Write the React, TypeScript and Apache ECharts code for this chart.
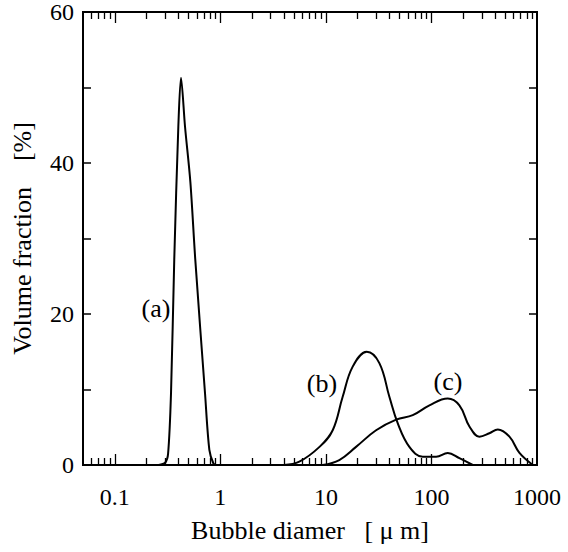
import React, { useEffect, useRef } from "react";
import * as echarts from "echarts";

const seriesA: [number, number][] = [
  [0.26, 0], [0.3, 0.3], [0.32, 1.5], [0.341, 9.5], [0.366, 27.2], [0.4, 44.8], [0.424, 51.3],
  [0.463, 44.8], [0.52, 37.5], [0.579, 27.2], [0.716, 9.5], [0.787, 2.0], [0.86, 0.2], [0.91, 0],
];
const seriesB: [number, number][] = [
  [4.0, 0], [5.6, 0.44], [8.7, 2.4], [11.6, 4.6], [14.4, 9.0], [17.9, 13.0], [24.4, 15.0],
  [32.1, 13.5], [40.0, 9.0], [48.0, 5.5], [61.8, 2.4], [82.7, 1.1], [110.8, 1.1], [142.7, 1.6],
  [184, 0.9], [246, 0],
];
const seriesC: [number, number][] = [
  [9.3, 0], [13.4, 0.66], [19.3, 2.4], [29.9, 4.6], [46.3, 6.0], [66.5, 6.6], [95.7, 7.9],
  [142.7, 8.8], [184, 7.9], [229, 5.1], [285, 3.75], [354, 4.2], [425, 4.7], [548, 3.75],
  [682, 1.6], [913, 0],
];
const xTickLabels = [0.1, 1, 10, 100, 1000];
const majorTicks = [0.1, 1, 10, 100];
const minorTicks = [
  0.06, 0.07, 0.08, 0.09,
  0.2, 0.3, 0.4, 0.5, 0.6, 0.7, 0.8, 0.9,
  2, 3, 4, 5, 6, 7, 8, 9,
  20, 30, 40, 50, 60, 70, 80, 90,
  200, 300, 400, 500, 600, 700, 800, 900,
];
const yTickLabels = [0, 20, 40, 60];
const Y_MIN = 0;
const Y_MAX = 60;
const X_MIN = 0.05;
const X_MAX = 1000;
const curveLabels = [
  { text: "(a)", x: 156, y: 308 },
  { text: "(b)", x: 322, y: 383 },
  { text: "(c)", x: 448, y: 381 },
];

const FONT = "Liberation Serif";

function tickAxis(values: number[], position: "top" | "bottom", len: number) {
  return {
    type: "log",
    logBase: 10,
    min: X_MIN,
    max: X_MAX,
    position,
    axisLine: { show: false },
    splitLine: { show: false },
    axisLabel: { show: false },
    axisTick: {
      show: true,
      inside: true,
      length: len,
      customValues: values,
      lineStyle: { color: "#000", width: 1.3 },
    },
  };
}

export default function App() {
  const ref = useRef<HTMLDivElement>(null);
  useEffect(() => {
    if (!ref.current) return;
    const chart = echarts.init(ref.current, undefined, { renderer: "svg" });
    const lineStyle = { color: "#000", width: 2 };
    chart.setOption({
      animation: false,
      backgroundColor: "#fff",
      grid: {
        left: 83,
        right: 31,
        top: 12,
        bottom: 87,
        show: true,
        borderColor: "#000",
        borderWidth: 2,
        outerBoundsMode: "none",
        containLabel: false,
      },
      xAxis: [
        {
          type: "log",
          logBase: 10,
          min: X_MIN,
          max: X_MAX,
          position: "bottom",
          name: "Bubble diamer   [ \u03bc m]",
          nameLocation: "middle",
          nameGap: 52,
          nameTextStyle: { fontFamily: FONT, fontSize: 26, color: "#000" },
          axisLine: { show: false },
          axisTick: {
            show: true,
            inside: true,
            length: 11,
            customValues: majorTicks,
            lineStyle: { color: "#000", width: 1.3 },
          },
          splitLine: { show: false },
          axisLabel: {
            fontFamily: FONT,
            fontSize: 24,
            color: "#000",
            margin: 20,
            customValues: xTickLabels,
            formatter: (v: number) => String(Number(v.toPrecision(6))),
          },
        },
        tickAxis(minorTicks, "bottom", 7),
        tickAxis(majorTicks, "top", 11),
        tickAxis(minorTicks, "top", 7),
      ],
      yAxis: [
        {
          type: "value",
          min: Y_MIN,
          max: Y_MAX,
          interval: 10,
          name: "Volume fraction    [%]",
          nameLocation: "middle",
          nameGap: 48,
          nameTextStyle: { fontFamily: FONT, fontSize: 26, color: "#000" },
          axisLine: { show: false },
          axisTick: { show: true, inside: true, length: 8, lineStyle: { color: "#000", width: 1.5 } },
          splitLine: { show: false },
          axisLabel: {
            fontFamily: FONT,
            fontSize: 24,
            color: "#000",
            margin: 9,
            padding: [11, 0, 0, 0],
            formatter: (v: number) => (yTickLabels.includes(v) ? String(v) : ""),
          },
        },
        {
          type: "value",
          position: "right",
          min: Y_MIN,
          max: Y_MAX,
          interval: 10,
          axisLine: { show: false },
          axisTick: { show: true, inside: true, length: 8, lineStyle: { color: "#000", width: 1.5 } },
          splitLine: { show: false },
          axisLabel: { show: false },
        },
      ],
      series: [
        { type: "line", data: seriesA, smooth: 0.3, showSymbol: false, lineStyle },
        { type: "line", data: seriesB, smooth: 0.4, showSymbol: false, lineStyle },
        { type: "line", data: seriesC, smooth: 0.4, showSymbol: false, lineStyle },
      ],
      graphic: curveLabels.map((l) => ({
        type: "text",
        x: l.x,
        y: l.y,
        style: {
          text: l.text,
          fontFamily: FONT,
          fontSize: 26,
          fill: "#000",
          align: "center",
          verticalAlign: "middle",
        },
      })),
    });
    return () => chart.dispose();
  }, []);
  return (
    <div
      ref={ref}
      style={{ position: "absolute", left: 0, top: 0, width: 568, height: 552 }}
    />
  );
}
